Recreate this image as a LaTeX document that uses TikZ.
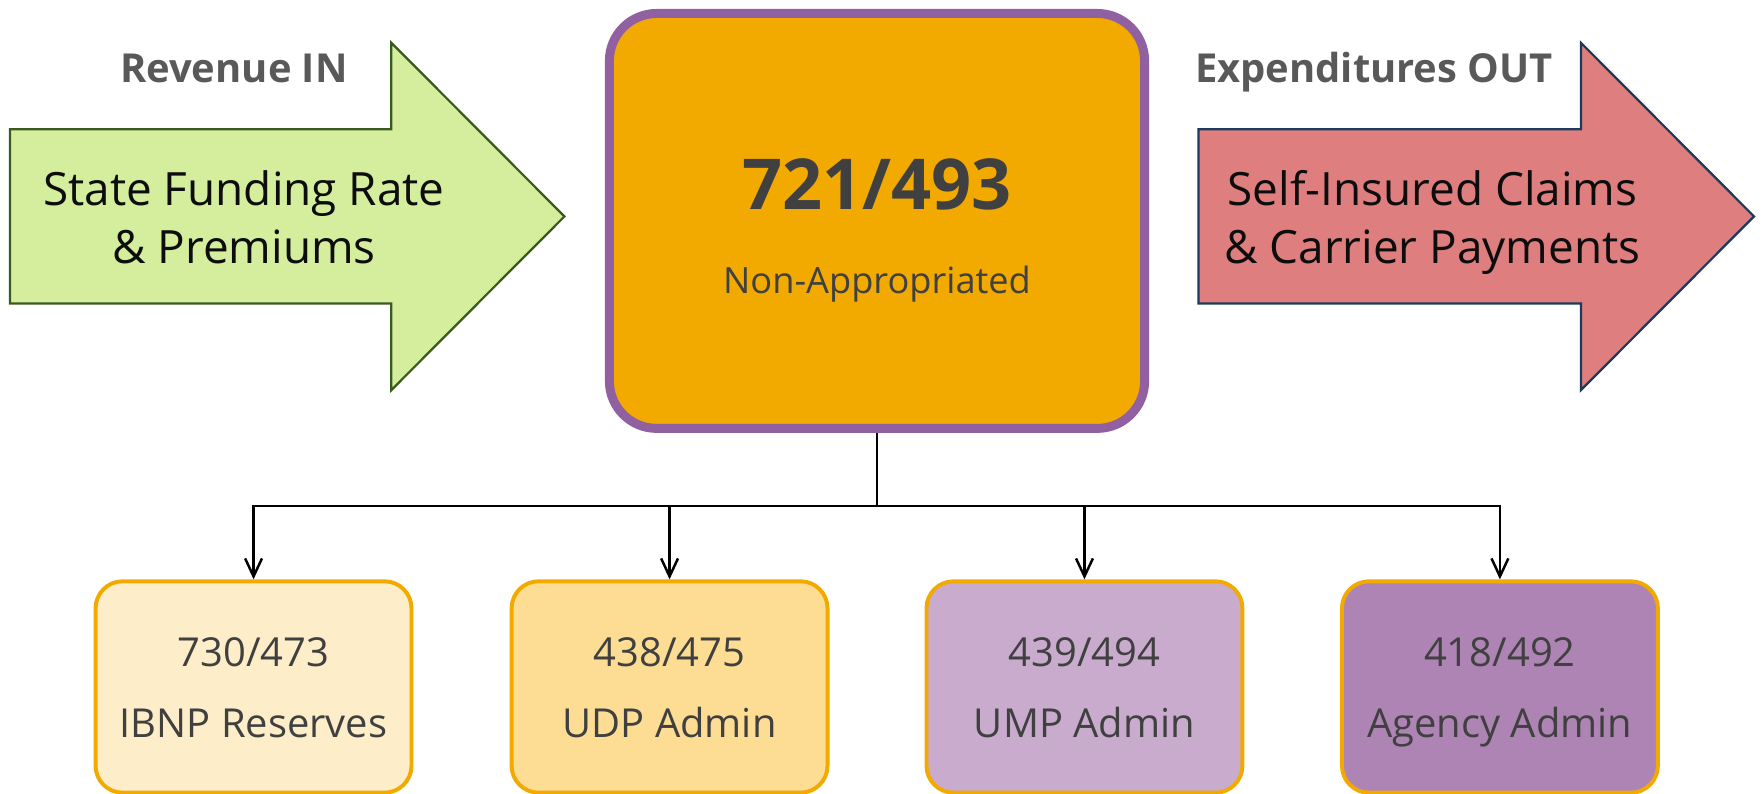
\documentclass[tikz,border=0pt]{standalone}
\usepackage{fontspec}
\setmainfont{Open Sans}
\usetikzlibrary{arrows.meta}

\definecolor{revfill}{HTML}{D5EE9E}
\definecolor{revline}{HTML}{3A5B1F}
\definecolor{expfill}{HTML}{DF7E7E}
\definecolor{expline}{HTML}{1B3A5C}
\definecolor{hdrgray}{HTML}{595959}
\definecolor{darktext}{HTML}{404040}
\definecolor{arrowtext}{HTML}{0D0D0D}
\definecolor{fundfill}{HTML}{F2AA00}
\definecolor{fundline}{HTML}{9160A0}
\definecolor{subline}{HTML}{F2AA00}
\definecolor{subA}{HTML}{FDEEC9}
\definecolor{subB}{HTML}{FDDD94}
\definecolor{subC}{HTML}{C8ABCD}
\definecolor{subD}{HTML}{AE84B4}

\begin{document}
\begin{tikzpicture}[x=1pt,y=-1pt,
  hdr/.style={anchor=base,text=hdrgray,font=\fontsize{35.5}{42}\bfseries\selectfont,inner sep=0},
  flowtext/.style={anchor=base,text=arrowtext,font=\fontsize{40.8}{48}\selectfont,inner sep=0},
  fundbox/.style={draw=fundline,fill=fundfill,line width=8pt,rounded corners=42pt,
    minimum width=476pt,minimum height=369pt,inner sep=0},
  subbox/.style={draw=subline,line width=3.5pt,rounded corners=24pt,
    minimum width=281pt,minimum height=188pt,inner sep=0},
  subtext/.style={anchor=base,text=darktext,font=\fontsize{35.5}{42}\selectfont,inner sep=0},
  conn/.style={draw=black,line width=2.2pt},
  drop/.style={conn,-{Straight Barb[length=16pt,width=15pt,line width=2.2pt]}}
]
\useasboundingbox (0,0) rectangle (1568,706);

% incoming revenue arrow
\draw[fill=revfill,draw=revline,line width=2pt,line join=miter]
  (9,115) -- (348,115) -- (348,38) -- (502,192.5) -- (348,347) -- (348,270) -- (9,270) -- cycle;
\node[hdr] (revhdr) at (208,73) {Revenue IN};
\node[flowtext] (rev1) at (217,183) {State Funding Rate};
\node[flowtext] (rev2) at (217,234) {\& Premiums};

% outgoing expenditure arrow
\draw[fill=expfill,draw=expline,line width=2pt,line join=miter]
  (1066,115) -- (1406,115) -- (1406,38) -- (1560,192.5) -- (1406,347) -- (1406,270) -- (1066,270) -- cycle;
\node[hdr] (exphdr) at (1222,73) {Expenditures OUT};
\node[flowtext] (exp1) at (1274,183) {Self-Insured Claims};
\node[flowtext] (exp2) at (1274,234) {\& Carrier Payments};

% central fund
\node[fundbox] (fund) at (780,196.5) {};
\node[anchor=base,text=darktext,font=\fontsize{62.5}{72}\bfseries\selectfont,inner sep=0] (fundnum) at (780,186) {721/493};
\node[anchor=base,text=darktext,font=\fontsize{32.2}{38}\selectfont,inner sep=0] (fundsub) at (780,261) {Non-Appropriated};

% sub-accounts
\node[subbox,fill=subA] (b1) at (225.5,611) {};
\node[subbox,fill=subB] (b2) at (595.5,611) {};
\node[subbox,fill=subC] (b3) at (964.5,611) {};
\node[subbox,fill=subD] (b4) at (1334,611) {};

\node[subtext] (n1) at (225.5,593) {730/473};
\node[subtext] (t1) at (225.5,656) {IBNP Reserves};
\node[subtext] (n2) at (595.5,593) {438/475};
\node[subtext] (t2) at (595.5,656) {UDP Admin};
\node[subtext] (n3) at (964.5,593) {439/494};
\node[subtext] (t3) at (964.5,656) {UMP Admin};
\node[subtext] (n4) at (1334,593) {418/492};
\node[subtext] (t4) at (1334,656) {Agency Admin};

% distribution connectors
\coordinate (bus) at (780,450);
\draw[conn] (fund.south) -- (bus);
\draw[drop] (bus) -| (b1.north);
\draw[drop] (bus) -| (b2.north);
\draw[drop] (bus) -| (b3.north);
\draw[drop] (bus) -| (b4.north);
\end{tikzpicture}
\end{document}
